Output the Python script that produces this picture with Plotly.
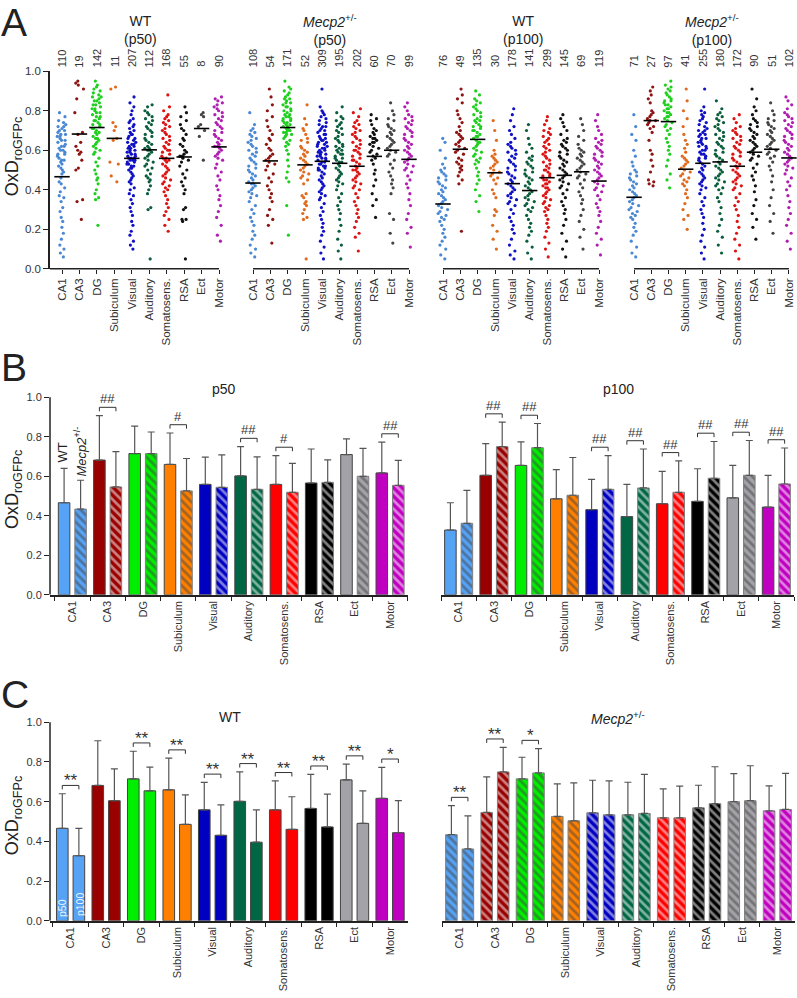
import plotly.graph_objects as go

# ---------------- data ----------------
cats = ["CA1", "CA3", "DG", "Subiculum", "Visual", "Auditory", "Somatosens.", "RSA", "Ect", "Motor"]

n_wt_p50 = [110, 19, 142, 11, 207, 112, 168, 55, 8, 90]
n_mut_p50 = [108, 54, 171, 52, 309, 195, 202, 60, 70, 99]
n_wt_p100 = [76, 49, 135, 30, 178, 141, 299, 145, 69, 119]
n_mut_p100 = [71, 27, 97, 41, 255, 180, 172, 90, 51, 102]

# individual-cell values (representative subset)
pts_wt_p50 = [
    [0.79,0.77,0.75,0.74,0.73,0.72,0.72,0.71,0.70,0.70,0.69,0.68,0.68,0.67,0.67,0.66,0.65,0.65,0.64,0.63,0.62,0.62,0.61,0.60,0.60,0.59,0.58,0.58,0.57,0.56,0.55,0.55,0.54,0.53,0.52,0.51,0.50,0.49,0.48,0.46,0.44,0.43,0.41,0.39,0.37,0.36,0.34,0.31,0.29,0.26,0.24,0.21,0.18,0.15,0.12,0.10,0.08,0.06],
    [0.95,0.94,0.93,0.91,0.86,0.79,0.69,0.68,0.64,0.62,0.60,0.59,0.58,0.55,0.51,0.50,0.35,0.34,0.25],
    [0.95,0.93,0.92,0.91,0.90,0.89,0.88,0.87,0.87,0.86,0.85,0.85,0.84,0.83,0.83,0.82,0.81,0.81,0.80,0.79,0.79,0.78,0.77,0.77,0.76,0.75,0.75,0.74,0.73,0.73,0.72,0.71,0.71,0.70,0.69,0.69,0.68,0.67,0.66,0.66,0.65,0.64,0.63,0.62,0.61,0.60,0.59,0.58,0.56,0.54,0.52,0.50,0.48,0.46,0.45,0.43,0.40,0.38,0.36,0.35,0.22],
    [0.92,0.91,0.74,0.72,0.70,0.66,0.65,0.54,0.53,0.47,0.44],
    [0.87,0.84,0.82,0.80,0.78,0.76,0.75,0.74,0.73,0.72,0.71,0.70,0.69,0.68,0.68,0.67,0.66,0.66,0.65,0.64,0.64,0.63,0.63,0.62,0.62,0.61,0.61,0.60,0.60,0.59,0.59,0.58,0.58,0.57,0.57,0.56,0.56,0.56,0.55,0.55,0.55,0.54,0.54,0.53,0.53,0.52,0.52,0.51,0.51,0.50,0.49,0.48,0.47,0.46,0.45,0.44,0.43,0.41,0.40,0.38,0.37,0.35,0.33,0.31,0.29,0.27,0.24,0.22,0.19,0.17,0.14,0.12,0.10],
    [0.83,0.82,0.80,0.79,0.78,0.77,0.76,0.75,0.74,0.73,0.72,0.71,0.70,0.69,0.68,0.67,0.66,0.65,0.64,0.63,0.62,0.61,0.61,0.60,0.60,0.59,0.58,0.57,0.56,0.55,0.54,0.53,0.52,0.51,0.50,0.48,0.47,0.46,0.45,0.44,0.42,0.40,0.38,0.31,0.30,0.05],
    [0.88,0.82,0.80,0.78,0.77,0.76,0.75,0.74,0.73,0.72,0.71,0.70,0.69,0.68,0.67,0.66,0.65,0.64,0.63,0.62,0.61,0.60,0.60,0.59,0.58,0.57,0.56,0.56,0.55,0.55,0.54,0.53,0.52,0.51,0.50,0.49,0.48,0.47,0.46,0.45,0.44,0.43,0.42,0.41,0.40,0.39,0.37,0.35,0.33,0.31,0.29,0.27,0.25,0.22,0.19],
    [0.82,0.79,0.77,0.75,0.73,0.71,0.70,0.68,0.66,0.65,0.63,0.62,0.60,0.59,0.58,0.57,0.57,0.56,0.55,0.54,0.52,0.50,0.48,0.46,0.44,0.42,0.40,0.38,0.31,0.30,0.25,0.25,0.24,0.05],
    [0.79,0.78,0.77,0.73,0.72,0.70,0.67,0.55],
    [0.87,0.86,0.85,0.84,0.83,0.82,0.81,0.80,0.79,0.78,0.77,0.76,0.75,0.74,0.73,0.72,0.71,0.70,0.69,0.68,0.67,0.66,0.65,0.64,0.63,0.62,0.62,0.61,0.60,0.59,0.58,0.57,0.56,0.55,0.53,0.51,0.49,0.47,0.45,0.42,0.40,0.37,0.35,0.32,0.29,0.26,0.22,0.17,0.14],
]
pts_mut_p50 = [
    [0.79,0.73,0.71,0.70,0.69,0.68,0.67,0.66,0.65,0.64,0.63,0.62,0.61,0.60,0.59,0.58,0.57,0.56,0.55,0.54,0.53,0.52,0.51,0.50,0.49,0.48,0.47,0.46,0.45,0.44,0.43,0.43,0.42,0.41,0.40,0.39,0.38,0.37,0.36,0.34,0.32,0.30,0.28,0.26,0.24,0.22,0.19,0.17,0.15,0.12,0.10,0.08,0.06],
    [0.91,0.87,0.83,0.80,0.77,0.75,0.72,0.70,0.68,0.66,0.65,0.63,0.61,0.60,0.58,0.57,0.56,0.55,0.54,0.53,0.52,0.50,0.48,0.46,0.44,0.42,0.40,0.38,0.36,0.34,0.30,0.27,0.25,0.22,0.13],
    [0.95,0.92,0.91,0.90,0.89,0.88,0.87,0.86,0.86,0.85,0.84,0.84,0.83,0.82,0.82,0.81,0.80,0.80,0.79,0.78,0.78,0.77,0.77,0.76,0.76,0.75,0.75,0.74,0.74,0.73,0.73,0.72,0.72,0.71,0.71,0.70,0.70,0.69,0.69,0.68,0.68,0.67,0.66,0.65,0.64,0.63,0.62,0.60,0.58,0.55,0.52,0.49,0.46,0.44,0.32,0.17],
    [0.83,0.76,0.73,0.71,0.70,0.68,0.66,0.65,0.64,0.62,0.61,0.60,0.59,0.58,0.57,0.56,0.55,0.54,0.53,0.52,0.51,0.50,0.49,0.48,0.47,0.46,0.45,0.43,0.38,0.37,0.36,0.34,0.33,0.32,0.30,0.28,0.26,0.25,0.05],
    [0.91,0.82,0.80,0.79,0.78,0.77,0.76,0.75,0.74,0.73,0.72,0.72,0.71,0.70,0.70,0.69,0.68,0.68,0.67,0.66,0.66,0.65,0.65,0.64,0.64,0.63,0.63,0.62,0.62,0.61,0.61,0.60,0.60,0.59,0.59,0.58,0.58,0.57,0.57,0.56,0.56,0.55,0.55,0.54,0.54,0.53,0.53,0.52,0.52,0.51,0.51,0.50,0.50,0.49,0.48,0.47,0.46,0.45,0.44,0.43,0.42,0.41,0.40,0.39,0.38,0.37,0.36,0.35,0.33,0.31,0.29,0.27,0.25,0.23,0.21,0.19,0.17,0.14,0.11,0.08,0.05],
    [0.82,0.79,0.77,0.76,0.75,0.74,0.73,0.72,0.71,0.70,0.69,0.68,0.67,0.66,0.65,0.64,0.63,0.62,0.62,0.61,0.60,0.60,0.59,0.58,0.58,0.57,0.56,0.56,0.55,0.54,0.54,0.53,0.52,0.51,0.50,0.49,0.48,0.47,0.46,0.45,0.44,0.43,0.42,0.40,0.38,0.36,0.34,0.32,0.30,0.28,0.25,0.22,0.19,0.15,0.12,0.09,0.05],
    [0.81,0.79,0.77,0.75,0.74,0.73,0.72,0.71,0.70,0.69,0.68,0.67,0.66,0.65,0.64,0.63,0.62,0.61,0.60,0.60,0.59,0.58,0.57,0.56,0.55,0.55,0.54,0.53,0.52,0.51,0.50,0.50,0.49,0.48,0.47,0.46,0.45,0.44,0.43,0.42,0.41,0.40,0.38,0.36,0.34,0.32,0.30,0.28,0.26,0.24,0.21,0.18,0.16,0.09],
    [0.78,0.76,0.75,0.73,0.71,0.70,0.69,0.68,0.67,0.66,0.66,0.65,0.64,0.64,0.63,0.62,0.61,0.60,0.59,0.58,0.57,0.56,0.55,0.53,0.50,0.48,0.45,0.42,0.38,0.35,0.32,0.26],
    [0.84,0.80,0.78,0.76,0.75,0.73,0.72,0.71,0.70,0.69,0.68,0.67,0.66,0.65,0.64,0.63,0.62,0.61,0.60,0.59,0.58,0.57,0.55,0.53,0.51,0.49,0.47,0.45,0.43,0.41,0.38,0.28,0.25,0.18,0.13],
    [0.84,0.82,0.80,0.78,0.77,0.76,0.75,0.74,0.73,0.72,0.71,0.70,0.69,0.68,0.67,0.66,0.65,0.64,0.63,0.62,0.61,0.60,0.59,0.58,0.57,0.56,0.55,0.54,0.53,0.52,0.51,0.50,0.49,0.47,0.45,0.43,0.41,0.38,0.35,0.32,0.28,0.25,0.21,0.18,0.11],
]
pts_wt_p100 = [
    [0.66,0.64,0.60,0.56,0.53,0.51,0.50,0.49,0.48,0.47,0.46,0.45,0.44,0.43,0.42,0.41,0.40,0.39,0.38,0.37,0.36,0.35,0.34,0.33,0.32,0.31,0.30,0.29,0.28,0.27,0.26,0.25,0.24,0.22,0.20,0.18,0.16,0.14,0.12,0.10,0.07,0.05],
    [0.91,0.88,0.86,0.84,0.80,0.78,0.76,0.74,0.72,0.70,0.69,0.68,0.67,0.66,0.65,0.64,0.63,0.62,0.61,0.60,0.59,0.58,0.56,0.55,0.54,0.53,0.52,0.51,0.50,0.49,0.47,0.45,0.43,0.19],
    [0.90,0.88,0.86,0.85,0.84,0.83,0.82,0.81,0.80,0.79,0.78,0.77,0.76,0.75,0.75,0.74,0.73,0.72,0.72,0.71,0.70,0.70,0.69,0.68,0.67,0.67,0.66,0.65,0.64,0.64,0.63,0.62,0.61,0.60,0.59,0.58,0.57,0.56,0.55,0.54,0.53,0.51,0.49,0.47,0.45,0.43,0.40,0.37,0.34,0.29],
    [0.75,0.70,0.65,0.60,0.58,0.57,0.56,0.55,0.54,0.53,0.52,0.51,0.50,0.49,0.48,0.47,0.46,0.45,0.43,0.40,0.38,0.36,0.30,0.29,0.27,0.22,0.19,0.15,0.10],
    [0.81,0.78,0.75,0.72,0.70,0.68,0.66,0.64,0.63,0.62,0.61,0.60,0.59,0.58,0.57,0.56,0.55,0.54,0.53,0.52,0.51,0.50,0.49,0.48,0.47,0.46,0.45,0.44,0.43,0.42,0.41,0.40,0.39,0.38,0.37,0.36,0.35,0.34,0.33,0.32,0.30,0.28,0.26,0.24,0.22,0.20,0.18,0.15,0.12,0.09,0.07,0.05],
    [0.73,0.70,0.66,0.63,0.61,0.59,0.57,0.56,0.55,0.54,0.53,0.52,0.51,0.50,0.49,0.48,0.47,0.46,0.45,0.44,0.43,0.42,0.41,0.40,0.39,0.38,0.37,0.36,0.35,0.34,0.33,0.32,0.31,0.30,0.29,0.27,0.25,0.23,0.21,0.19,0.17,0.14,0.11,0.08,0.05],
    [0.77,0.75,0.73,0.71,0.70,0.69,0.68,0.67,0.66,0.65,0.64,0.63,0.62,0.61,0.60,0.59,0.58,0.57,0.56,0.55,0.54,0.53,0.52,0.51,0.50,0.50,0.49,0.48,0.47,0.47,0.46,0.45,0.45,0.44,0.43,0.43,0.42,0.41,0.41,0.40,0.39,0.38,0.37,0.36,0.35,0.34,0.33,0.32,0.31,0.30,0.29,0.27,0.25,0.23,0.21,0.19,0.16,0.13,0.10,0.06],
    [0.78,0.76,0.74,0.72,0.70,0.68,0.66,0.65,0.64,0.63,0.62,0.61,0.60,0.59,0.58,0.57,0.56,0.55,0.54,0.53,0.52,0.51,0.50,0.49,0.48,0.47,0.46,0.45,0.44,0.43,0.42,0.41,0.40,0.38,0.36,0.34,0.32,0.30,0.28,0.25,0.22,0.18,0.14,0.10,0.06],
    [0.76,0.73,0.70,0.67,0.65,0.63,0.61,0.60,0.59,0.58,0.57,0.56,0.55,0.54,0.53,0.52,0.51,0.50,0.49,0.48,0.47,0.46,0.45,0.43,0.41,0.39,0.37,0.35,0.33,0.30,0.27,0.24,0.20,0.16,0.10],
    [0.78,0.75,0.72,0.70,0.68,0.66,0.65,0.64,0.63,0.62,0.61,0.60,0.59,0.58,0.57,0.56,0.55,0.54,0.53,0.52,0.51,0.50,0.49,0.48,0.47,0.46,0.45,0.44,0.43,0.42,0.41,0.40,0.39,0.37,0.35,0.33,0.31,0.29,0.27,0.24,0.21,0.18,0.15,0.12,0.07],
]
pts_mut_p100 = [
    [0.78,0.72,0.68,0.65,0.60,0.57,0.54,0.52,0.50,0.49,0.48,0.47,0.46,0.45,0.44,0.43,0.42,0.41,0.40,0.39,0.38,0.37,0.36,0.35,0.34,0.33,0.32,0.31,0.30,0.29,0.28,0.27,0.26,0.25,0.23,0.21,0.19,0.17,0.14,0.11,0.08,0.06],
    [0.92,0.90,0.88,0.86,0.84,0.80,0.79,0.78,0.77,0.76,0.75,0.75,0.74,0.73,0.72,0.71,0.69,0.65,0.60,0.58,0.55,0.52,0.49,0.45,0.44,0.43,0.42],
    [0.95,0.93,0.92,0.91,0.90,0.89,0.88,0.87,0.86,0.85,0.85,0.84,0.83,0.83,0.82,0.81,0.81,0.80,0.79,0.79,0.78,0.77,0.77,0.76,0.75,0.74,0.73,0.72,0.71,0.70,0.68,0.66,0.64,0.62,0.60,0.58,0.55,0.52,0.48,0.45,0.41],
    [0.91,0.85,0.80,0.76,0.72,0.68,0.65,0.63,0.61,0.59,0.57,0.56,0.55,0.54,0.53,0.52,0.51,0.50,0.49,0.48,0.47,0.46,0.45,0.44,0.43,0.42,0.40,0.38,0.36,0.33,0.30,0.27,0.25,0.20],
    [0.91,0.82,0.80,0.79,0.78,0.77,0.76,0.75,0.74,0.73,0.72,0.71,0.70,0.70,0.69,0.68,0.68,0.67,0.66,0.66,0.65,0.64,0.64,0.63,0.62,0.62,0.61,0.60,0.60,0.59,0.58,0.58,0.57,0.56,0.56,0.55,0.54,0.53,0.52,0.51,0.50,0.49,0.48,0.47,0.46,0.45,0.44,0.43,0.42,0.41,0.40,0.38,0.36,0.34,0.32,0.30,0.28,0.26,0.23,0.20,0.17,0.14,0.11,0.08,0.05],
    [0.85,0.81,0.79,0.78,0.77,0.76,0.75,0.74,0.73,0.72,0.71,0.70,0.69,0.68,0.67,0.66,0.65,0.64,0.63,0.62,0.61,0.60,0.59,0.58,0.57,0.56,0.55,0.54,0.53,0.52,0.51,0.50,0.49,0.48,0.47,0.46,0.45,0.44,0.43,0.42,0.41,0.40,0.38,0.36,0.34,0.31,0.28,0.25,0.22,0.19,0.16,0.12,0.08],
    [0.78,0.76,0.74,0.72,0.71,0.70,0.69,0.68,0.67,0.66,0.65,0.64,0.63,0.62,0.61,0.60,0.59,0.58,0.57,0.56,0.55,0.54,0.53,0.52,0.51,0.50,0.49,0.48,0.47,0.46,0.45,0.44,0.43,0.42,0.41,0.40,0.38,0.36,0.34,0.32,0.30,0.27,0.24,0.21,0.18,0.15,0.12,0.09,0.05],
    [0.91,0.86,0.82,0.80,0.78,0.76,0.75,0.74,0.73,0.72,0.71,0.70,0.69,0.68,0.67,0.66,0.65,0.64,0.63,0.62,0.61,0.60,0.59,0.58,0.57,0.56,0.55,0.53,0.51,0.49,0.47,0.45,0.42,0.39,0.35,0.32,0.28,0.25,0.21,0.15],
    [0.84,0.80,0.78,0.76,0.75,0.74,0.73,0.72,0.71,0.70,0.69,0.68,0.67,0.66,0.65,0.64,0.63,0.62,0.61,0.60,0.59,0.58,0.57,0.56,0.54,0.52,0.50,0.47,0.44,0.40,0.36,0.32,0.28,0.24,0.18],
    [0.87,0.85,0.83,0.81,0.79,0.78,0.77,0.76,0.75,0.74,0.73,0.72,0.71,0.70,0.69,0.68,0.67,0.66,0.65,0.64,0.63,0.62,0.61,0.60,0.59,0.58,0.57,0.56,0.55,0.54,0.53,0.52,0.51,0.50,0.48,0.46,0.44,0.42,0.40,0.37,0.34,0.31,0.28,0.25,0.22,0.18,0.14,0.10],
]

# means and SD (upper error) per region
wt_p50_mean = [0.466, 0.682, 0.715, 0.660, 0.559, 0.602, 0.559, 0.566, 0.710, 0.617]
wt_p50_sd = [0.174, 0.225, 0.139, 0.159, 0.138, 0.148, 0.146, 0.172, 0.079, 0.156]
wt_p100_mean = [0.328, 0.605, 0.655, 0.486, 0.431, 0.396, 0.461, 0.473, 0.491, 0.444]
wt_p100_sd = [0.138, 0.160, 0.119, 0.148, 0.153, 0.163, 0.164, 0.165, 0.164, 0.161]
mut_p50_mean = [0.434, 0.546, 0.715, 0.526, 0.544, 0.534, 0.519, 0.569, 0.600, 0.554]
mut_p50_sd = [0.146, 0.179, 0.109, 0.164, 0.164, 0.164, 0.146, 0.114, 0.141, 0.126]
mut_p100_mean = [0.362, 0.750, 0.745, 0.504, 0.534, 0.541, 0.519, 0.590, 0.605, 0.561]
mut_p100_sd = [0.167, 0.124, 0.122, 0.191, 0.171, 0.197, 0.159, 0.186, 0.176, 0.182]

sig_B_p50 = ["", "##", "", "#", "", "##", "#", "", "", "##"]
sig_B_p100 = ["", "##", "##", "", "##", "##", "##", "##", "##", "##"]
sig_C_wt = ["**", "", "**", "**", "**", "**", "**", "**", "**", "*"]
sig_C_mut = ["**", "**", "*", "", "", "", "", "", "", ""]

y_ticks = [0.0, 0.2, 0.4, 0.6, 0.8, 1.0]

bar_colors = ["#56a2f5", "#990000", "#00ee00", "#ff8000", "#0000c0",
              "#006644", "#ff0000", "#000000", "#a2a2a8", "#c000c0"]
pt_colors = ["#4a88d4", "#8e1414", "#1fcf1f", "#e06a1e", "#1010c4",
             "#0b5e3c", "#dd1414", "#111111", "#444444", "#b01eb0"]

FONT = "Liberation Sans, Arial, sans-serif"
W, H = 797, 998


def fx(p):
    return p / W


def fy(p):
    return 1 - p / H


fig = go.Figure()
layout = dict(width=W, height=H, margin=dict(l=0, r=0, t=0, b=0),
              plot_bgcolor="white", paper_bgcolor="white", showlegend=False,
              font=dict(family=FONT, color="#222"),
              barmode="group", bargap=0.065, bargroupgap=0.3, boxmode="overlay")

shapes = []
annotations = []


def ptext(x, y, text, size, angle=0, color="#222"):
    annotations.append(dict(x=fx(x), y=fy(y), xref="paper", yref="paper", text=text,
                            showarrow=False, textangle=angle, xanchor="center",
                            yanchor="middle", align="center",
                            font=dict(size=size, color=color, family=FONT)))


# ---------------- panel A ----------------
A_dom = [(50, 226.9, -0.688), (245.2, 416.8, -0.45), (435.2, 606.8, -0.45), (626.3, 796.7, -0.45)]
A_pts = [pts_wt_p50, pts_mut_p50, pts_wt_p100, pts_mut_p100]
A_n = [n_wt_p50, n_mut_p50, n_wt_p100, n_mut_p100]
A_mean = [wt_p50_mean, mut_p50_mean, wt_p100_mean, mut_p100_mean]
A_titles = ["WT<br>(p50)", "<i>Mecp2</i><sup>+/-</sup><br>(p50)",
            "WT<br>(p100)", "<i>Mecp2</i><sup>+/-</sup><br>(p100)"]
A_title_x = [140.5, 330, 523, 712]

for k in range(4):
    a, b, r0 = A_dom[k]
    xn = "xaxis" if k == 0 else f"xaxis{k+1}"
    yn = "yaxis" if k == 0 else f"yaxis{k+1}"
    xr = "x" if k == 0 else f"x{k+1}"
    yr = "y" if k == 0 else f"y{k+1}"
    layout[xn] = dict(domain=[fx(a), fx(b)], range=[r0, 9.45], anchor=yr,
                      tickvals=list(range(10)), ticktext=cats, tickangle=-90,
                      ticks="outside", ticklen=4, tickwidth=1.2, tickcolor="#222",
                      showline=False, showgrid=False, zeroline=False,
                      tickfont=dict(size=11.5, color="#333"))
    if k == 0:
        layout[yn] = dict(domain=[fy(266), fy(66)], range=[0, 1], anchor=xr,
                          showline=True, linewidth=1.5, linecolor="#222",
                          ticks="outside", ticklen=5, tickwidth=1.2, tickcolor="#222",
                          tickvals=y_ticks, tickformat=".1f", showgrid=False, zeroline=False,
                          tickfont=dict(size=11.5, color="#333"))
    else:
        layout[yn] = dict(domain=[fy(266), fy(66)], range=[0, 1], anchor=xr,
                          visible=False, showgrid=False, zeroline=False)
    shapes.append(dict(type="line", xref=xr, yref="paper", x0=(r0 if k == 0 else 0), x1=9,
                       y0=fy(266), y1=fy(266), line=dict(color="#222", width=1.5)))
    for i in range(10):
        vals = A_pts[k][i]
        fig.add_trace(go.Box(x=[i] * len(vals), y=vals, xaxis=xr, yaxis=yr,
                             boxpoints="all", jitter=1, pointpos=0, width=0.6,
                             orientation="v",
                             marker=dict(size=3.2, color=pt_colors[i]),
                             line=dict(width=0), fillcolor="rgba(0,0,0,0)",
                             hoveron="points"))
        annotations.append(dict(x=i, y=fy(64), xref=xr, yref="paper", text=str(A_n[k][i]),
                                showarrow=False, textangle=-90, yanchor="bottom",
                                xanchor="center", font=dict(size=11, color="#333")))
    fig.add_trace(go.Scatter(x=list(range(10)), y=A_mean[k], xaxis=xr, yaxis=yr,
                             mode="markers", cliponaxis=False,
                             marker=dict(symbol="line-ew", size=11,
                                         line=dict(width=1.6, color="black"))))
    ptext(A_title_x[k], 24, A_titles[k], 14)

# ---------------- panels B and C ----------------
def bar_axes(xn, yn, xr, yr, dom, rng, ydom, show_y):
    layout[xn] = dict(domain=[fx(dom[0]), fx(dom[1])], range=rng, anchor=yr,
                      type="category", categoryarray=cats, categoryorder="array",
                      tickson="boundaries", ticks="outside", ticklen=4, tickwidth=1.2,
                      tickcolor="#222", showline=True, linewidth=1.5, linecolor="#222",
                      tickangle=-90, showgrid=False, zeroline=False,
                      tickfont=dict(size=11, color="#333"))
    if show_y:
        layout[yn] = dict(domain=ydom, range=[0, 1.1], anchor=xr, showline=False,
                          ticks="outside", ticklen=5, tickwidth=1.2, tickcolor="#222",
                          tickvals=y_ticks, tickformat=".1f", showgrid=False, zeroline=False,
                          tickfont=dict(size=11, color="#333"))
        shapes.append(dict(type="line", xref="paper", yref=yr, x0=fx(dom[0]), x1=fx(dom[0]),
                           y0=0, y1=1, line=dict(color="#222", width=1.5)))
    else:
        layout[yn] = dict(domain=ydom, range=[0, 1.1], anchor=xr, visible=False,
                          showgrid=False, zeroline=False)


def add_bars(xr, yr, mean, sd, hatched):
    if hatched:
        marker = dict(color=bar_colors,
                      pattern=dict(shape="\\", fgcolor="white", size=6, solidity=0.45,
                                   fillmode="overlay"),
                      line=dict(color="#808080", width=1))
    else:
        marker = dict(color=bar_colors, line=dict(color="#444", width=1))
    fig.add_trace(go.Bar(x=cats, y=mean, xaxis=xr, yaxis=yr, marker=marker,
                         error_y=dict(type="data", array=sd, arrayminus=[0] * len(sd),
                                      symmetric=False, color="#555", thickness=1.2, width=3.5)))


def add_brackets(xr, yr, sig, m1, s1, m2, s2):
    for i, s in enumerate(sig):
        if not s:
            continue
        yb = max(m1[i] + s1[i], m2[i] + s2[i]) + 0.042
        x0, x1 = i - 0.234, i + 0.234
        for (a, b, c, d) in [(x0, yb - 0.02, x0, yb), (x0, yb, x1, yb), (x1, yb, x1, yb - 0.02)]:
            shapes.append(dict(type="line", xref=xr, yref=yr, x0=a, y0=b, x1=c, y1=d,
                               line=dict(color="#333", width=1)))
        star = "*" in s
        annotations.append(dict(x=i, y=yb, xref=xr, yref=yr, text=s, showarrow=False,
                                yanchor="bottom", xanchor="center",
                                yshift=(-7 if star else -1),
                                font=dict(size=(17 if star else 13), color="#333")))


B_ydom = [fy(596), fy(596 - 1.1 * 200)]
C_ydom = [fy(926), fy(926 - 1.1 * 201)]

bar_axes("xaxis5", "yaxis5", "x5", "y5", (50, 407.7), [-0.633, 9.5], B_ydom, True)
bar_axes("xaxis6", "yaxis6", "x6", "y6", (441, 794), [-0.5, 9.5], B_ydom, False)
bar_axes("xaxis7", "yaxis7", "x7", "y7", (50, 407.8), [-0.58, 9.5], C_ydom, True)
bar_axes("xaxis8", "yaxis8", "x8", "y8", (442, 795), [-0.5, 9.5], C_ydom, False)

# B: p50 and p100, WT vs Mecp2
add_bars("x5", "y5", wt_p50_mean, wt_p50_sd, False)
add_bars("x5", "y5", mut_p50_mean, mut_p50_sd, True)
add_bars("x6", "y6", wt_p100_mean, wt_p100_sd, False)
add_bars("x6", "y6", mut_p100_mean, mut_p100_sd, True)
add_brackets("x5", "y5", sig_B_p50, wt_p50_mean, wt_p50_sd, mut_p50_mean, mut_p50_sd)
add_brackets("x6", "y6", sig_B_p100, wt_p100_mean, wt_p100_sd, mut_p100_mean, mut_p100_sd)

# C: WT and Mecp2, p50 vs p100
add_bars("x7", "y7", wt_p50_mean, wt_p50_sd, False)
add_bars("x7", "y7", wt_p100_mean, wt_p100_sd, False)
add_bars("x8", "y8", mut_p50_mean, mut_p50_sd, True)
add_bars("x8", "y8", mut_p100_mean, mut_p100_sd, True)
add_brackets("x7", "y7", sig_C_wt, wt_p50_mean, wt_p50_sd, wt_p100_mean, wt_p100_sd)
add_brackets("x8", "y8", sig_C_mut, mut_p50_mean, mut_p50_sd, mut_p100_mean, mut_p100_sd)

# ---------------- text ----------------
ptext(14, 17, "A", 39)
ptext(14, 366, "B", 39)
ptext(15, 697, "C", 39)

ytitle = "OxD<sub>roGFPc</sub>"
ptext(13, 153, ytitle, 18, -90)
ptext(13, 490, ytitle, 18, -90)
ptext(13, 820, ytitle, 18, -90)

ptext(224, 388, "p50", 14)
ptext(618, 388, "p100", 14)
ptext(230, 720, "WT", 14)
ptext(618, 721, "<i>Mecp2</i><sup>+/-</sup>", 14)

ptext(63, 452, "WT", 13, -90)
ptext(80, 451, "<i>Mecp2</i><sup>+/-</sup>", 13, -90)
ptext(62, 913, "p50", 10.5, -90, color="rgba(255,255,255,0.9)")
ptext(80, 909, "p100", 10.5, -90, color="rgba(255,255,255,0.9)")

layout["shapes"] = shapes
layout["annotations"] = annotations
fig.update_layout(**layout)
fig.write_html("out.html")
